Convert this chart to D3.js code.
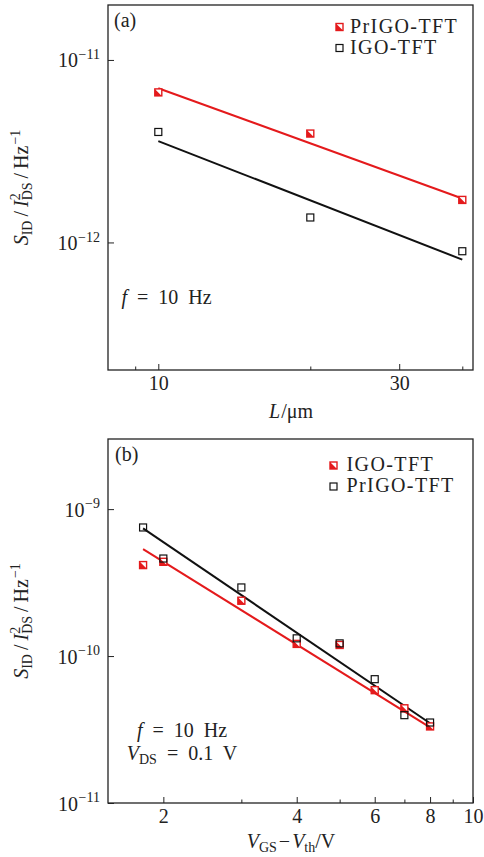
<!DOCTYPE html>
<html>
<head>
<meta charset="utf-8">
<script src="https://cdn.jsdelivr.net/npm/d3@7"></script>
<style>
  body { margin: 0; background: #fff; }
  svg { display: block; }
  text { white-space: pre; font-family: "Liberation Serif", serif; }
</style>
</head>
<body>
<svg id="chart" width="484" height="857"></svg>
<script>
// Panel (a): normalised noise vs channel length
const lenA = [10, 20, 40];
const prigoA = [6.64e-12, 3.95e-12, 1.71e-12];
const igoA = [4.03e-12, 1.37e-12, 8.95e-13];
const fitLenA = [10, 40];
const prigoFitA = [7.0e-12, 1.74e-12];
const igoFitA = [3.59e-12, 8.05e-13];
const xTicksA = [10, 30];
const xMinorA = [9, 20, 40];
const yTicksA = [1e-12, 1e-11];

// Panel (b): normalised noise vs overdrive voltage
const vgsB = [1.8, 2, 3, 4, 5, 6, 7, 8];
const igoB = [4.16e-10, 4.38e-10, 2.38e-10, 1.21e-10, 1.19e-10, 5.86e-11, 4.41e-11, 3.32e-11];
const prigoB = [7.50e-10, 4.61e-10, 2.93e-10, 1.32e-10, 1.22e-10, 6.96e-11, 3.96e-11, 3.53e-11];
const fitVgsB = [1.8, 8];
const igoFitB = [5.34e-10, 3.27e-11];
const prigoFitB = [7.39e-10, 3.49e-11];
const xTicksB = [2, 4, 6, 8, 10];
const xMinorB = [3, 5, 7, 9];
const yTicksB = [1e-11, 1e-10, 1e-9];

const RED = '#e41a1c';
const BLACK = '#111';

const svg = d3.select('#chart');

// write a run of text pieces (italic / sub / sup) into a text element
function rich(sel, parts, size) {
  let cur = 0;
  parts.forEach(p => {
    const target = p.sup ? -0.42 * size : p.sub ? 0.2 * size : 0;
    const ts = sel.append('tspan')
      .text(p.t)
      .attr('dy', target - cur)
      .attr('font-size', (p.sup || p.sub) ? size * 0.7 : size)
      .attr('font-style', p.it ? 'italic' : 'normal');
    if (p.dx) ts.attr('dx', p.dx);
    cur = target;
  });
}

function marker(g, cx, cy, kind) {
  const s = 7;
  const m = g.append('g').attr('transform', `translate(${cx},${cy})`);
  if (kind === 'half') {
    m.append('rect').attr('x', -s / 2).attr('y', -s / 2).attr('width', s).attr('height', s)
      .attr('fill', '#fff').attr('stroke', RED).attr('stroke-width', 1.4);
    m.append('path').attr('d', `M${-s / 2},${-s / 2}L${-s / 2},${s / 2}L${s / 2},${s / 2}Z`)
      .attr('fill', RED);
  } else {
    m.append('rect').attr('x', -s / 2).attr('y', -s / 2).attr('width', s).attr('height', s)
      .attr('fill', 'none').attr('stroke', BLACK).attr('stroke-width', 1.2);
  }
}

function drawPanel(p) {
  const g = svg.append('g');
  const x = d3.scaleLog().domain(p.xDomain).range([108, 473]);
  const y = d3.scaleLog().domain(p.yDomain).range([p.bottom, p.top]);

  // axes with inward ticks
  const xAxis = g.append('g')
    .attr('transform', `translate(0,${p.bottom})`)
    .call(d3.axisBottom(x).tickValues(p.xTicks).tickFormat(d3.format('d'))
      .tickSizeInner(-6).tickSizeOuter(0).tickPadding(6));
  xAxis.attr('font-size', 20).attr('color', '#222');
  xAxis.select('.domain').remove();

  const xMinor = g.append('g')
    .attr('transform', `translate(0,${p.bottom})`)
    .call(d3.axisBottom(x).tickValues(p.xMinor).tickFormat('')
      .tickSizeInner(-3.5).tickSizeOuter(0));
  xMinor.attr('color', '#222');
  xMinor.select('.domain').remove();

  const yAxis = g.append('g')
    .attr('transform', 'translate(108,0)')
    .call(d3.axisLeft(y).tickValues(p.yTicks).tickFormat('')
      .tickSizeInner(-6).tickSizeOuter(0).tickPadding(8));
  yAxis.attr('color', '#222');
  yAxis.select('.domain').remove();
  yAxis.selectAll('.tick text').each(function(d) {
    const e = Math.round(Math.log10(d));
    const t = d3.select(this).attr('dy', null).attr('y', 7).attr('fill', '#222');
    rich(t, [{ t: '10' }, { t: '\u2212' + Math.abs(e), sup: true, dx: 0.5 }], 20);
  });

  g.append('rect')
    .attr('x', 108).attr('y', p.top)
    .attr('width', 365).attr('height', p.bottom - p.top)
    .attr('fill', 'none').attr('stroke', '#222').attr('stroke-width', 1.3);

  const line = d3.line().x(d => x(d[0])).y(d => y(d[1]));
  p.series.forEach(s => {
    g.append('path')
      .datum(s.fitX.map((v, i) => [v, s.fitY[i]]))
      .attr('d', line)
      .attr('fill', 'none')
      .attr('stroke', s.color)
      .attr('stroke-width', 2);
  });
  p.series.forEach(s => {
    s.xs.forEach((v, i) => marker(g, x(v), y(s.ys[i]), s.kind));
  });

  // legend
  p.series.forEach((s, i) => {
    const ly = p.legend.y + i * p.legend.step;
    marker(g, p.legend.x, ly, s.kind);
    g.append('text')
      .attr('x', p.legend.x + p.legend.gap)
      .attr('y', ly + 5.5)
      .attr('font-size', 20)
      .attr('letter-spacing', 1.4)
      .attr('fill', '#222')
      .text(s.name);
  });

  g.append('text').attr('x', p.tagX).attr('y', p.top + 22)
    .attr('font-size', 20).attr('fill', '#222').text(p.tag);

  // y label
  const yl = g.append('text')
    .attr('transform', `translate(28,${(p.top + p.bottom) / 2}) rotate(-90)`)
    .attr('text-anchor', 'middle').attr('fill', '#222');
  rich(yl, [
    { t: 'S', it: true }, { t: 'ID', sub: true },
    { t: '/', dx: 4 }, { t: 'I', it: true, dx: 4 },
    { t: '2', sup: true }, { t: 'DS', sub: true, dx: -7 },
    { t: '/', dx: 4 }, { t: 'Hz', dx: 4 }, { t: '\u22121', sup: true, dx: 1 }
  ], 20);

  const xl = g.append('text')
    .attr('x', 291).attr('y', p.xLabelY)
    .attr('text-anchor', 'middle').attr('fill', '#222');
  rich(xl, p.xLabel, 20);

  p.notes.forEach(n => {
    const t = g.append('text').attr('x', n.x).attr('y', n.y)
      .attr('text-anchor', n.anchor).attr('fill', '#222');
    rich(t, n.parts, 20);
  });
}

drawPanel({
  xDomain: [7.95, 42], yDomain: [2e-13, 2e-11], top: 5, bottom: 370,
  xTicks: xTicksA, xMinor: xMinorA, yTicks: yTicksA,
  series: [
    { name: 'PrIGO-TFT', kind: 'half', color: RED, xs: lenA, ys: prigoA, fitX: fitLenA, fitY: prigoFitA },
    { name: 'IGO-TFT', kind: 'open', color: BLACK, xs: lenA, ys: igoA, fitX: fitLenA, fitY: igoFitA }
  ],
  legend: { x: 339.5, y: 27, step: 21, gap: 10.5 },
  tag: '(a)', tagX: 114,
  xLabel: [{ t: 'L', it: true }, { t: '/\u03bcm', dx: 1 }], xLabelY: 418,
  notes: [{ x: 121.5, y: 304, anchor: 'start', parts: [{ t: 'f', it: true }, { t: '  =  10  Hz' }] }]
});

drawPanel({
  xDomain: [1.5, 10], yDomain: [1e-11, 3e-9], top: 439, bottom: 803,
  xTicks: xTicksB, xMinor: xMinorB, yTicks: yTicksB,
  series: [
    { name: 'IGO-TFT', kind: 'half', color: RED, xs: vgsB, ys: igoB, fitX: fitVgsB, fitY: igoFitB },
    { name: 'PrIGO-TFT', kind: 'open', color: BLACK, xs: vgsB, ys: prigoB, fitX: fitVgsB, fitY: prigoFitB }
  ],
  legend: { x: 333.5, y: 465.5, step: 21, gap: 13 },
  tag: '(b)', tagX: 115,
  xLabel: [{ t: 'V', it: true }, { t: 'GS', sub: true }, { t: '\u2212', dx: 2 },
           { t: 'V', it: true, dx: 2 }, { t: 'th', sub: true }, { t: '/V' }], xLabelY: 848,
  notes: [
    { x: 182, y: 737, anchor: 'middle', parts: [{ t: 'f', it: true }, { t: '  =  10  Hz' }] },
    { x: 182, y: 760, anchor: 'middle', parts: [{ t: 'V', it: true }, { t: 'DS', sub: true }, { t: '  =  0.1  V' }] }
  ]
});
</script>
</body>
</html>
